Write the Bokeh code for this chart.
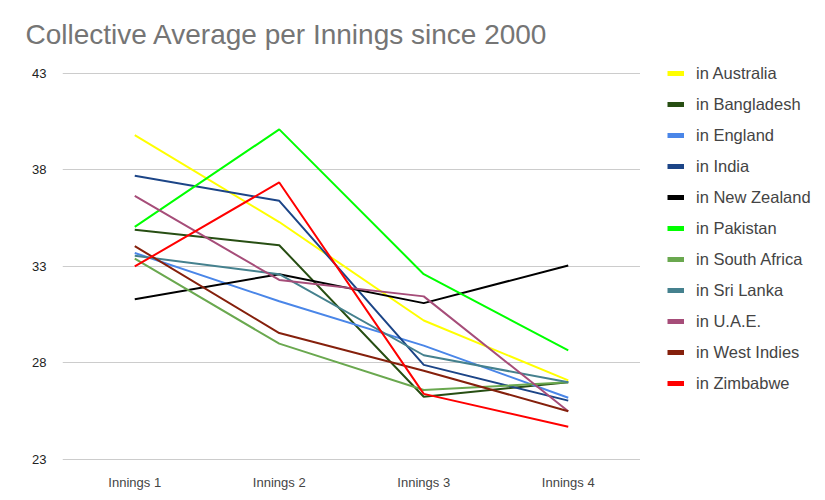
import math
from bokeh.plotting import figure
from bokeh.layouts import row
from bokeh.models import Range1d, FixedTicker, Legend, LegendItem, FactorRange
from bokeh.embed import file_html
from bokeh.resources import INLINE

innings = ["Innings 1", "Innings 2", "Innings 3", "Innings 4"]
y_ticks = [23, 28, 33, 38, 43]

australia = [39.8, 35.3, 30.2, 27.1]
bangladesh = [34.9, 34.1, 26.25, 27.0]
england = [33.7, 31.2, 28.9, 26.2]
india = [37.7, 36.4, 27.9, 26.05]
new_zealand = [31.3, 32.6, 31.1, 33.05]
pakistan = [35.05, 40.1, 32.6, 28.65]
south_africa = [33.4, 29.0, 26.6, 27.0]
sri_lanka = [33.55, 32.6, 28.4, 27.0]
uae = [36.65, 32.3, 31.45, 25.5]
west_indies = [34.05, 29.55, 27.6, 25.5]
zimbabwe = [33.0, 37.35, 26.4, 24.7]

series_names = ["in Australia", "in Bangladesh", "in England", "in India", "in New Zealand",
                "in Pakistan", "in South Africa", "in Sri Lanka", "in U.A.E.",
                "in West Indies", "in Zimbabwe"]
series_values = [australia, bangladesh, england, india, new_zealand, pakistan,
                 south_africa, sri_lanka, uae, west_indies, zimbabwe]
colors = ["#ffff00", "#274e13", "#4a86e8", "#1c4587", "#000000", "#00ff00",
          "#6aa84f", "#45818e", "#a64d79", "#85200c", "#ff0000"]

H = 492
p = figure(width=640, height=H, x_range=FactorRange(*innings), y_range=Range1d(22.948, 43.979),
           output_backend="svg", toolbar_location=None,
           min_border_left=62, min_border_right=0, min_border_top=54, min_border_bottom=30)
p.outline_line_color = None
p.background_fill_color = "white"
p.border_fill_color = "white"

p.title.text = "Collective Average per Innings since 2000"
p.title.text_font = "Liberation Sans"
p.title.text_font_size = "28px"
p.title.text_font_style = "normal"
p.title.text_color = "#757575"
p.title.offset = -37
p.title.standoff = 10

p.yaxis.ticker = FixedTicker(ticks=y_ticks)
p.yaxis.axis_line_color = None
p.yaxis.major_tick_line_color = None
p.yaxis.minor_tick_line_color = None
p.yaxis.major_label_text_font = "Liberation Sans"
p.yaxis.major_label_text_font_size = "13px"
p.yaxis.major_label_text_color = "#222222"
p.yaxis.major_label_standoff = 10

p.xaxis.axis_line_color = None
p.xaxis.major_tick_line_color = None
p.xaxis.minor_tick_line_color = None
p.xaxis.major_label_text_font = "Liberation Sans"
p.xaxis.major_label_text_font_size = "13px"
p.xaxis.major_label_text_color = "#444444"
p.xaxis.major_label_standoff = 8

p.xgrid.grid_line_color = None
p.ygrid.grid_line_color = "#cccccc"
p.ygrid.grid_line_width = 1

for vals, col in zip(series_values, colors):
    p.line(x=innings, y=vals, line_color=col, line_width=2)

# legend panel
lp = figure(width=177, height=H, x_range=Range1d(0, 1), y_range=Range1d(0, 1),
            output_backend="svg", toolbar_location=None,
            x_axis_location=None, y_axis_location=None,
            min_border_left=0, min_border_right=0, min_border_top=0, min_border_bottom=0)
lp.outline_line_color = None
lp.xgrid.visible = False
lp.ygrid.visible = False
lp.border_fill_color = "white"

items = []
for name, col in zip(series_names, colors):
    dummy = lp.line(x=[math.nan], y=[math.nan], line_color=col, line_width=5)
    items.append(LegendItem(label=name, renderers=[dummy]))

legend = Legend(items=items, location=(27, 67), orientation="vertical",
                glyph_width=17, glyph_height=20, label_height=20, spacing=11,
                label_standoff=12, padding=0, margin=0,
                border_line_color=None, background_fill_alpha=0,
                label_text_font="Liberation Sans", label_text_font_size="16.5px",
                label_text_color="#444444")
lp.add_layout(legend, "center")

open("out.html", "w").write(file_html(row(p, lp), INLINE))
